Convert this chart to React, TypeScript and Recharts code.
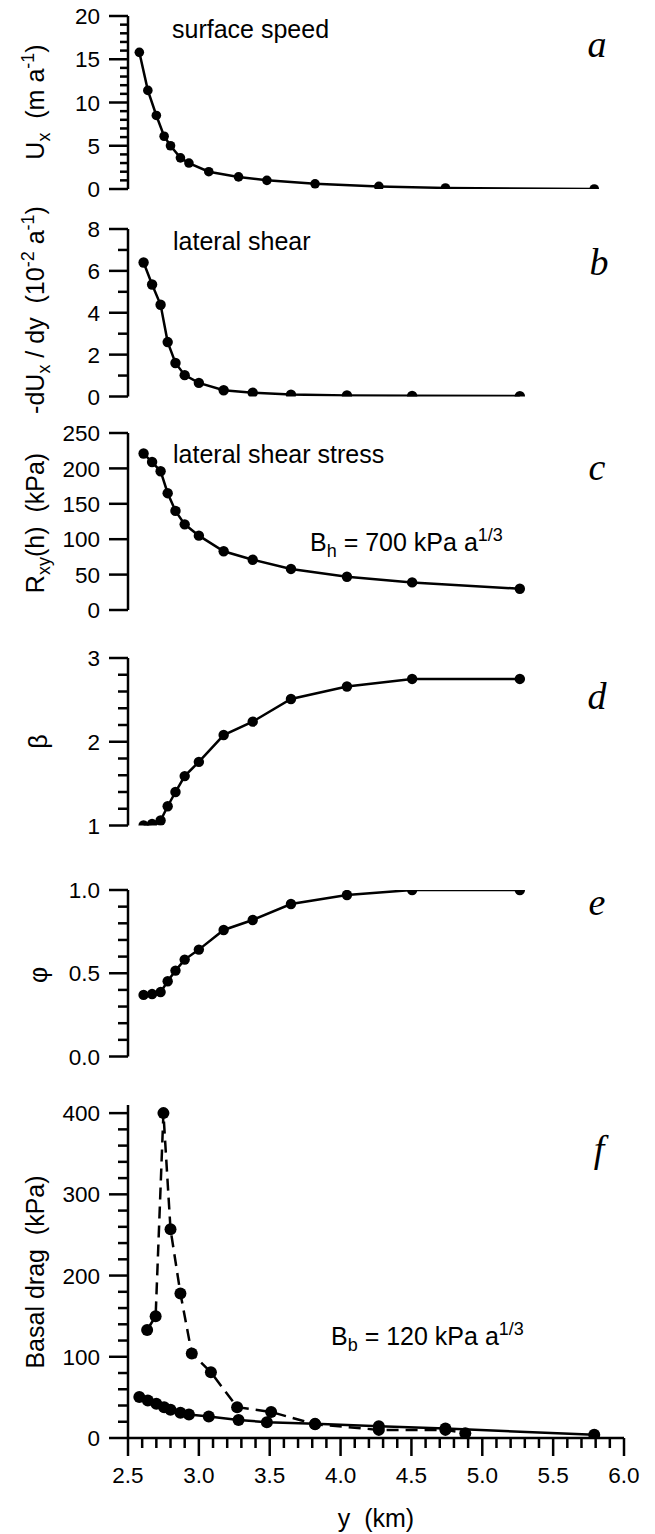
import { LineChart, Line, XAxis, YAxis } from 'recharts';

// sample positions across the glacier (km)
const yKm = [2.58, 2.64, 2.70, 2.755, 2.80, 2.87, 2.93, 3.07, 3.28, 3.48, 3.82, 4.27, 4.74, 5.79];
// midpoints used by the derived quantities (panels b-e)
const yMid = [2.61, 2.67, 2.73, 2.78, 2.835, 2.90, 3.00, 3.175, 3.38, 3.65, 4.045, 4.505, 5.265];
// points of the dashed basal drag curve
const yKmDashed = [2.635, 2.695, 2.75, 2.80, 2.87, 2.95, 3.085, 3.27, 3.51, 3.82, 4.27, 4.74, 4.88];

const surfaceSpeed = [15.8, 11.4, 8.5, 6.1, 5.0, 3.6, 3.0, 2.0, 1.4, 1.0, 0.6, 0.3, 0.12, 0.0];
const lateralShear = [6.4, 5.35, 4.38, 2.6, 1.6, 1.02, 0.65, 0.3, 0.18, 0.09, 0.05, 0.03, 0.02];
const shearStress = [221, 209, 196, 165, 140, 121, 105, 83, 71, 58, 47, 39, 30];
const beta = [1.0, 1.02, 1.06, 1.23, 1.40, 1.59, 1.76, 2.08, 2.24, 2.51, 2.66, 2.75, 2.75];
const phi = [0.37, 0.375, 0.387, 0.452, 0.516, 0.582, 0.642, 0.76, 0.82, 0.916, 0.97, 1.0, 1.0];
const basalDrag = [50.4, 46.3, 42.1, 38, 34.7, 31, 28.9, 26.4, 22.3, 19.4, 17.4, 14.5, 11.6, 4.1];
const basalDragDashed = [133, 150, 400, 257, 178, 104, 81, 38, 32, 17, 10, 10, 6];

// labelled ticks
const xLabels = [2.5, 3.0, 3.5, 4.0, 4.5, 5.0, 5.5, 6.0];
const aLabels = [0, 5, 10, 15, 20];
const bLabels = [0, 2, 4, 6, 8];
const cLabels = [0, 50, 100, 150, 200, 250];
const dLabels = [1, 2, 3];
const eLabels = [0, 0.5, 1];
const fLabels = [0, 100, 200, 300, 400];

const W = 655;
const LEFT = 128;
const RIGHT = 624;
const PAD = 40;
const SANS = 'Liberation Sans, Arial, sans-serif';
const SERIF = 'Liberation Serif, Times New Roman, serif';
const TICK_FONT = 22.5;
const NOTE_FONT = 25;
const SMALL_FONT = 18;

function steps(a: number, b: number, step: number) {
  const n = Math.round((b - a) / step);
  const out: number[] = [];
  for (let i = 0; i <= n; i++) out.push(+(a + i * step).toFixed(6));
  return out;
}

const isIn = (list: number[], v: number) => list.some(l => Math.abs(l - v) < 1e-6);
const pts = (xs: number[], vs: number[]) => xs.map((x, i) => ({ x, v: vs[i] }));

const makeYTick = (labels: number[], fmt: (v: number) => string, minorLen: number) => (props: any) => {
  const { x, y, payload } = props;
  const major = isIn(labels, payload.value);
  return (
    <g>
      <line x1={x - (major ? 19 : minorLen)} x2={x} y1={y} y2={y} stroke="#000" strokeWidth={2.5} />
      {major && (
        <text x={x - 28} y={y} dy="0.36em" textAnchor="end" fontSize={TICK_FONT} fontFamily={SANS} fill="#000">
          {fmt(payload.value)}
        </text>
      )}
    </g>
  );
};

const XTick = (props: any) => {
  const { x, y, payload } = props;
  const major = isIn(xLabels, payload.value);
  return (
    <g>
      <line x1={x} x2={x} y1={y} y2={y + (major ? 18 : 10)} stroke="#000" strokeWidth={2.5} />
      {major && (
        <text x={x} y={y + 45} textAnchor="middle" fontSize={TICK_FONT} fontFamily={SANS} fill="#000">
          {payload.value.toFixed(1)}
        </text>
      )}
    </g>
  );
};

function SideLabel({ y, x = 44, children }: { y: number; x?: number; children: any }) {
  return (
    <text x={x} y={y} transform={`rotate(-90 ${x} ${y})`} textAnchor="middle" fontSize={NOTE_FONT}
      fontFamily={SANS} fill="#000" style={{ whiteSpace: 'pre' }}>
      {children}
    </text>
  );
}

function Note({ x, y, children }: { x: number; y: number; children: any }) {
  return (
    <text x={x} y={y} fontSize={NOTE_FONT} fontFamily={SANS} fill="#000" style={{ whiteSpace: 'pre' }}>
      {children}
    </text>
  );
}

function Letter({ x, y, children }: { x: number; y: number; children: string }) {
  return (
    <text x={x} y={y} textAnchor="middle" fontSize={38} fontStyle="italic" fontFamily={SERIF} fill="#000">
      {children}
    </text>
  );
}

// subscript / superscript pieces; each one is followed by a tspan that shifts back
const sub = (t: string) => <tspan dy={6} fontSize={SMALL_FONT}>{t}</tspan>;
const sup = (t: string) => <tspan dy={-10} fontSize={SMALL_FONT}>{t}</tspan>;

const seriesLine = (key: string, data: { x: number; v: number }[], r: number, dashed = false) => (
  <Line
    key={key}
    data={data}
    dataKey="v"
    type="linear"
    stroke="#000"
    strokeWidth={2.5}
    strokeDasharray={dashed ? '12 7' : undefined}
    dot={{ r, fill: '#000', stroke: 'none' }}
    isAnimationActive={false}
  />
);

interface PanelProps {
  top: number;
  bottom: number;
  domain: [number, number];
  ticks: number[];
  labels: number[];
  fmt?: (v: number) => string;
  minorLen?: number;
  xAxis?: boolean;
  lines: any[];
  notes: any;
}

function Panel({ top, bottom, domain, ticks, labels, fmt = v => String(v), minorLen = 10, xAxis = false, lines, notes }: PanelProps) {
  const axisH = 1534 - bottom;
  const height = bottom - top + PAD + (xAxis ? axisH : PAD);
  return (
    <div style={{ position: 'absolute', left: 0, top: top - PAD }}>
      <LineChart width={W} height={height} margin={{ top: PAD, right: W - RIGHT, bottom: xAxis ? 0 : PAD, left: 0 }}>
        <XAxis
          type="number"
          dataKey="x"
          domain={[2.5, 6]}
          allowDataOverflow
          ticks={steps(2.5, 6, 0.1)}
          interval={0}
          hide={!xAxis}
          height={xAxis ? axisH : 0}
          tickSize={0}
          tickMargin={0}
          tickLine={false}
          tick={XTick}
          axisLine={{ stroke: '#000', strokeWidth: 2.5 }}
        />
        <YAxis
          type="number"
          domain={domain}
          allowDataOverflow
          ticks={ticks}
          interval={0}
          width={LEFT}
          tickSize={0}
          tickMargin={0}
          tickLine={false}
          tick={makeYTick(labels, fmt, minorLen)}
          axisLine={{ stroke: '#000', strokeWidth: 2.5 }}
        />
        {lines}
        <g transform={`translate(0, ${PAD - top})`}>{notes}</g>
      </LineChart>
    </div>
  );
}

export default function App() {
  return (
    <div style={{ position: 'absolute', left: 0, top: 0, width: W, height: 1534, background: '#fff', overflow: 'hidden' }}>
      <Panel
        top={16} bottom={189} domain={[0, 20]} ticks={steps(0, 20, 1)} labels={aLabels} minorLen={8}
        lines={[seriesLine('a', pts(yKm, surfaceSpeed), 4.8)]}
        notes={<>
          <Note x={172} y={38}>surface speed</Note>
          <Letter x={597} y={57}>a</Letter>
          <SideLabel y={102}>U{sub('x')}<tspan dy={-6}>  (m a</tspan>{sup('-1')}<tspan dy={10}>)</tspan></SideLabel>
        </>}
      />
      <Panel
        top={229} bottom={396.5} domain={[0, 8]} ticks={steps(0, 8, 1)} labels={bLabels}
        lines={[seriesLine('b', pts(yMid, lateralShear), 5.2)]}
        notes={<>
          <Note x={173} y={250}>lateral shear</Note>
          <Letter x={599} y={275}>b</Letter>
          <SideLabel y={310}>-dU{sub('x')}<tspan dy={-6}> / dy  (10</tspan>{sup('-2')}<tspan dy={10}> a</tspan>{sup('-1')}<tspan dy={10}>)</tspan></SideLabel>
        </>}
      />
      <Panel
        top={433} bottom={610} domain={[0, 250]} ticks={cLabels} labels={cLabels}
        lines={[seriesLine('c', pts(yMid, shearStress), 5.2)]}
        notes={<>
          <Note x={173} y={463}>lateral shear stress</Note>
          <Letter x={597} y={480}>c</Letter>
          <Note x={310} y={551}>B{sub('h')}<tspan dy={-6}> = 700 kPa a</tspan>{sup('1/3')}</Note>
          <SideLabel y={523}>R{sub('xy')}<tspan dy={-6}>(h)  (kPa)</tspan></SideLabel>
        </>}
      />
      <Panel
        top={657.5} bottom={825} domain={[1, 3]} ticks={steps(1, 3, 0.2)} labels={dLabels}
        lines={[seriesLine('d', pts(yMid, beta), 5.2)]}
        notes={<>
          <Letter x={597} y={708}>d</Letter>
          <SideLabel y={741} x={47}>β</SideLabel>
        </>}
      />
      <Panel
        top={890} bottom={1056.5} domain={[0, 1]} ticks={steps(0, 1, 0.1)} labels={eLabels} fmt={v => v.toFixed(1)}
        lines={[seriesLine('e', pts(yMid, phi), 5.2)]}
        notes={<>
          <Letter x={597} y={915}>e</Letter>
          <SideLabel y={975} x={47}>φ</SideLabel>
        </>}
      />
      <Panel
        top={1105} bottom={1438} domain={[0, 410]} ticks={steps(0, 400, 20)} labels={fLabels} xAxis
        lines={[
          seriesLine('f-dashed', pts(yKmDashed, basalDragDashed), 6, true),
          seriesLine('f', pts(yKm, basalDrag), 6),
        ]}
        notes={<>
          <Letter x={599} y={1162}>f</Letter>
          <Note x={331} y={1345}>B{sub('b')}<tspan dy={-6}> = 120 kPa a</tspan>{sup('1/3')}</Note>
          <SideLabel y={1272}>Basal drag  (kPa)</SideLabel>
          <text x={(LEFT + RIGHT) / 2} y={1527} textAnchor="middle" fontSize={NOTE_FONT} fontFamily={SANS} fill="#000" style={{ whiteSpace: 'pre' }}>y  (km)</text>
        </>}
      />
    </div>
  );
}
